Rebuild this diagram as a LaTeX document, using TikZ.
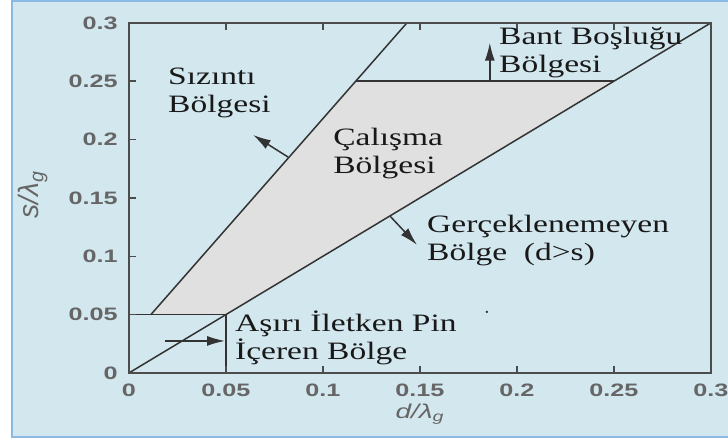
\documentclass[tikz,border=0pt]{standalone}
\usepackage{fontspec}
\setmainfont{Liberation Serif}
\newfontfamily\tickfont{Liberation Sans}
\usetikzlibrary{arrows.meta, calc}
\definecolor{panelbg}{HTML}{D3E7EE}
\definecolor{panelrule}{HTML}{8CB9E3}
\definecolor{zonegray}{HTML}{E0E0E0}

\begin{document}
\begin{tikzpicture}[x=1940pt,y=1167pt,>={Latex[length=18pt,width=10pt]},
  lbl/.style={anchor=base west,align=left,inner sep=0pt,xscale=1.34,font=\fontsize{25}{28}\selectfont,text=black!90},
  tk/.style={inner sep=0pt,xscale=1.4,font=\tickfont\bfseries\fontsize{18}{18}\selectfont,text=black!60},
  ln/.style={line width=1.5pt,black!80},
  ax/.style={line width=2.4pt,black!70}]
  \useasboundingbox (-0.0665,-0.0566) rectangle (0.3088,0.3196);
  \fill[panelbg,draw=panelrule,line width=1.5pt] (-0.0603,-0.0548) rectangle (0.34,0.3188);
  % region corners
  \coordinate (o) at (0,0);
  \coordinate (lkA) at (0.0113,0.05);
  \coordinate (lkB) at (0.1433,0.3);
  \coordinate (lkC) at (0.1169,0.25);
  \coordinate (sdA) at (0.05,0.05);
  \coordinate (sdB) at (0.25,0.25);
  \coordinate (sdC) at (0.3,0.3);
  \coordinate (hA) at (0,0.05);
  \coordinate (vA) at (0.05,0);
  \fill[zonegray] (lkA)--(sdA)--(sdB)--(lkC)--cycle;
  \draw[ln] (lkA)--(lkB);
  \draw[ln] (o)--(sdC);
  \draw[ln] (hA)--(sdA)--(vA);
  \draw[ln] (lkC)--(sdB);
  % axes box and ticks
  \draw[ax] (o) rectangle (sdC);
  \foreach \v in {0.05,0.1,0.15,0.2,0.25}{
    \draw[ax,line width=1.4pt] (0,\v)--++(7pt,0);
    \draw[ax,line width=1.4pt] (\v,0)--++(0,7pt);
    \draw[ax,line width=1.4pt] (\v,0.3)--++(0,-7pt);
  }
  \foreach \v [count=\i] in {0,0.05,0.1,0.15,0.2,0.25,0.3}{
    \node[tk,anchor=east] (yt\i) at ($(0,\v)+(-11pt,0)$) {\v};
    \node[tk] (xt\i) at ($(\v,0)+(0,-17pt)$) {\v};
  }
  \node[tk,font=\tickfont\itshape\fontsize{20}{20}\selectfont] (xlab) at (0.15,-0.0351) {d/λ\textsubscript{g}};
  \node[tk,xscale=1,yscale=1.4,rotate=90,font=\tickfont\itshape\fontsize{20}{20}\selectfont] (ylab) at (-0.0495,0.1525) {s/λ\textsubscript{g}};
  % region labels
  \node[lbl] (leak) at (0.0201,0.2228) {Sızıntı\\Bölgesi};
  \node[lbl] (work) at (0.1052,0.1705) {Çalışma\\Bölgesi};
  \node[lbl] (gap) at (0.1907,0.2571) {Bant Boşluğu\\Bölgesi};
  \node[lbl] (unreal) at (0.1536,0.096) {Gerçeklenemeyen\\Bölge\ \ (d>s)};
  \node[lbl] (pin) at (0.0546,0.0111) {Aşırı İletken Pin\\İçeren Bölge};
  % pointers
  \coordinate (lkFrom) at (0.082,0.185);
  \coordinate (lkTo) at (0.0639,0.204);
  \coordinate (gpFrom) at (0.186,0.25);
  \coordinate (gpTo) at (0.186,0.283);
  \coordinate (urFrom) at (0.1345,0.1345);
  \coordinate (urTo) at (0.1485,0.1097);
  \coordinate (pnFrom) at (0.0186,0.0274);
  \coordinate (pnTo) at (0.0495,0.0274);
  \draw[ln,->] (lkFrom)--(lkTo);
  \draw[ln,->] (gpFrom)--(gpTo);
  \draw[ln,->] (urFrom)--(urTo);
  \draw[ln,->] (pnFrom)--(pnTo);
  \fill[black!80] (0.1845,0.0523) circle (1.3pt);
\end{tikzpicture}
\end{document}
